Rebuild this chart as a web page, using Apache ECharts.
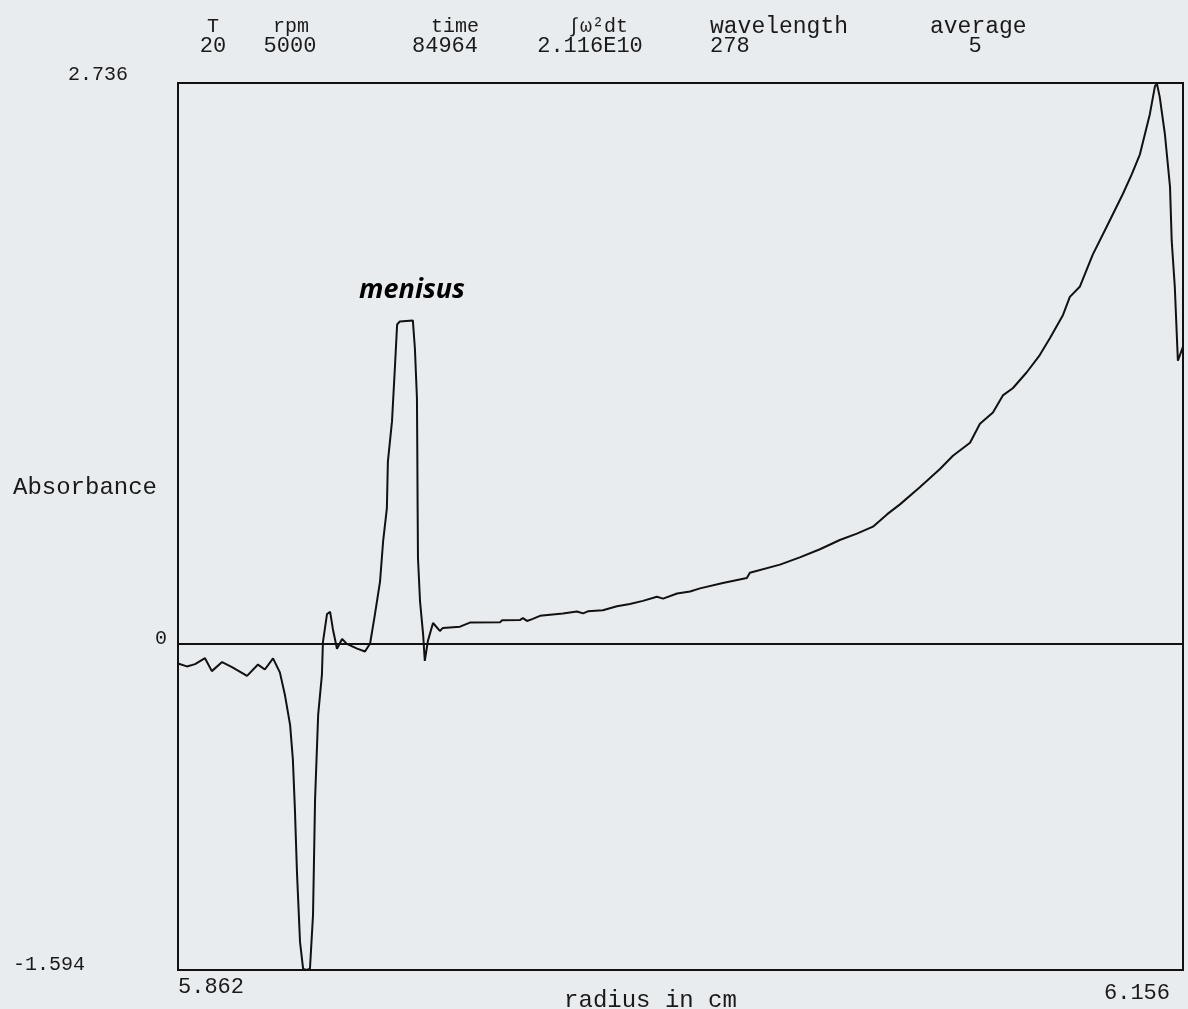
<!DOCTYPE html>
<html><head><meta charset="utf-8">
<script src="https://cdn.jsdelivr.net/npm/echarts@6/dist/echarts.min.js"></script>
<style>html,body{margin:0;padding:0;background:#e8ecee;}#c{width:1188px;height:1009px;}</style>
</head><body><div id="c"></div>
<script>
// radius (cm)
const radius = [5.8620,5.8646,5.8670,5.8699,5.8719,5.8749,5.8778,5.8822,5.8854,5.8874,5.8898,5.8918,5.8933,5.8948,5.8956,5.8962,5.8968,5.8977,5.8986,5.8997,5.9006,5.9015,5.9021,5.9030,5.9041,5.9044,5.9056,5.9065,5.9073,5.9085,5.9100,5.9114,5.9144,5.9167,5.9182,5.9196,5.9211,5.9220,5.9231,5.9234,5.9246,5.9255,5.9261,5.9269,5.9307,5.9313,5.9319,5.9320,5.9321,5.9322,5.9328,5.9337,5.9342,5.9351,
  5.9366,5.9386,5.9395,5.9445,5.9474,5.9562,5.9568,5.9620,5.9629,5.9641,5.9658,5.9679,5.9746,5.9787,5.9805,5.9819,5.9863,5.9904,5.9942,5.9980,6.0021,6.0039,6.0080,6.0118,6.0147,6.0214,6.0284,6.0293,6.0381,6.0439,6.0498,6.0556,6.0606,6.0653,6.0694,6.0732,6.0790,6.0849,6.0887,6.0937,6.0966,6.1004,6.1033,6.1062,6.1103,6.1141,6.1171,6.1209,6.1229,6.1258,
  6.1296,6.1340,6.1384,6.1410,6.1434,6.1463,6.1478,6.1484,6.1492,6.1507,6.1522,6.1527,6.1536,6.1545,6.1560];
// absorbance
const absorbance = [-0.098,-0.112,-0.101,-0.072,-0.135,-0.091,-0.115,-0.158,-0.103,-0.127,-0.073,-0.141,-0.253,-0.399,-0.565,-0.809,-1.116,-1.458,-1.589,-1.594,-1.588,-1.325,-0.759,-0.349,-0.153,0.007,0.144,0.154,0.071,-0.026,0.022,-0.002,-0.025,-0.039,0.000,0.141,0.302,0.498,0.659,0.888,1.084,1.362,1.557,1.572,1.577,1.441,1.197,0.953,0.660,0.417,0.207,0.046,-0.085,0.012,
  0.100,0.061,0.076,0.082,0.102,0.103,0.113,0.114,0.124,0.110,0.120,0.135,0.146,0.156,0.147,0.157,0.162,0.182,0.193,0.208,0.228,0.219,0.244,0.254,0.269,0.295,0.320,0.345,0.385,0.420,0.460,0.505,0.536,0.570,0.630,0.679,0.763,0.852,0.916,0.980,1.073,1.128,1.211,1.246,1.324,1.408,1.491,1.604,1.692,1.741,
  1.898,2.045,2.194,2.290,2.388,2.584,2.721,2.731,2.667,2.487,2.229,1.965,1.741,1.380,1.449];
const yTickLabels = [-1.594, 0, 2.736];
const xTickLabels = [5.862, 6.156];
const headerNames = ['T', 'rpm', 'time', '\u222B\u03C9\u00B2dt', 'wavelength', 'average'];
const headerValues = ['20', '5000', '84964', '2.116E10', '278', '5'];
const annotation = 'menisus';

const FONT = '"Liberation Mono", "DejaVu Sans Mono", monospace';
const INK = '#1a1a1a';
// [nameX, valueX, nameAlign, valueAlign, nameSize]
const hdrPos = [[213,213,'center','center',20],[291,290,'center','center',20],[455,445,'center','center',20],[598,590,'center','center',20],[710,710,'left','left',23],[930,975,'left','center',23]];

const graphics = [];
headerNames.forEach((n,i)=>{
  const p = hdrPos[i];
  graphics.push({type:'text', x:p[0], y:27, style:{text:n, font:p[4]+'px '+FONT, fill:INK, textAlign:p[2], textVerticalAlign:'middle'}});
  graphics.push({type:'text', x:p[1], y:46, style:{text:headerValues[i], font:'22px '+FONT, fill:INK, textAlign:p[3], textVerticalAlign:'middle'}});
});
graphics.push({type:'text', x:157, y:488, style:{text:'Absorbance', font:'24px '+FONT, fill:INK, textAlign:'right', textVerticalAlign:'middle'}});
graphics.push({type:'text', x:412, y:290, style:{text:annotation, font:'italic bold 27px "Noto Sans", sans-serif', fill:'#000', textAlign:'center', textVerticalAlign:'middle'}});

const lbl = (extra)=>Object.assign({fontFamily:FONT, fontSize:20, color:INK}, extra);

const chart = echarts.init(document.getElementById('c'), null, {renderer:'canvas'});
chart.setOption({
  backgroundColor:'#e8ecee',
  animation:false,
  grid:{left:178, right:5, top:83, bottom:39, containLabel:false, outerBoundsMode:'none',
    show:true, borderColor:'#111', borderWidth:2, backgroundColor:'transparent'},
  xAxis:{type:'value', min:5.862, max:6.156,
    axisLine:{show:false}, axisTick:{show:false}, splitLine:{show:false},
    axisLabel:{customValues:xTickLabels, alignMinLabel:'left', alignMaxLabel:'right', margin:6,
      formatter:v=> (Math.abs(v-5.862)<1e-6?'{a|':'{b|') + v.toFixed(3) + '}',
      rich:{a:lbl({fontSize:22, padding:[0,0,0,0]}), b:lbl({fontSize:22, padding:[6,13,0,0]})}},
    name:'radius in cm', nameLocation:'middle', nameGap:19, nameMoveOverlap:false,
    nameTextStyle:{fontFamily:FONT, fontSize:24, color:INK, padding:[0,60,0,0]}},
  yAxis:{type:'value', min:-1.594, max:2.736,
    axisLine:{show:false}, axisTick:{show:false}, splitLine:{show:false},
    axisLabel:{customValues:yTickLabels, margin:8,
      formatter:v=>{ if (v>2) return '{t|2.736}'; if (v<-1) return '{b|-1.594}'; return '{z|0}'; },
      rich:{t:lbl({padding:[0,42,16,0]}), b:lbl({padding:[0,85,10,0]}), z:lbl({padding:[0,3,10,0]})}}},
  series:[{type:'line', data:radius.map((r,i)=>[r,absorbance[i]]), showSymbol:false, symbol:'none',
    lineStyle:{color:'#111', width:2}, clip:true,
    markLine:{silent:true, symbol:'none', label:{show:false}, lineStyle:{color:'#111', width:2, type:'solid'}, data:[{yAxis:0}]}}],
  graphic:graphics
});
</script></body></html>
